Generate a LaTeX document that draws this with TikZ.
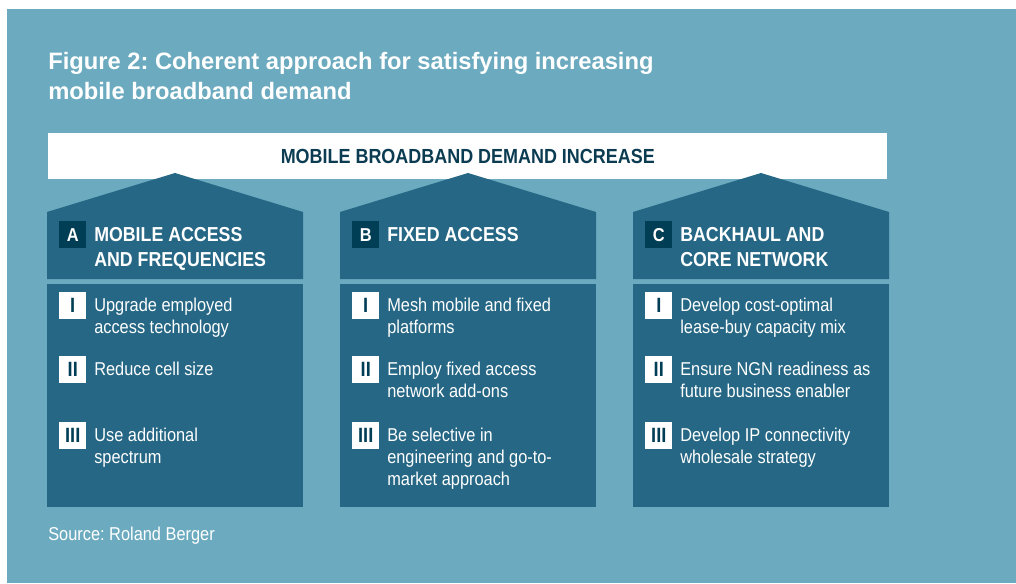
\documentclass[tikz,border=0pt]{standalone}
\usepackage{fontspec}
\setmainfont{Liberation Sans}
\newfontfamily\cnd{Liberation Sans}[FakeStretch=0.88]

\definecolor{skyback}{HTML}{6BAABF}
\definecolor{pillarblue}{HTML}{256784}
\definecolor{badgeblue}{HTML}{003E55}
\definecolor{inkblue}{HTML}{0B3C52}

\tikzset{
  px/.style={x=0.75pt,y=-0.75pt},
  titletext/.style={anchor=north west, inner sep=0pt, text=white, align=left,
    font=\bfseries\fontsize{17.8}{22.5}\selectfont},
  bannerbox/.style={anchor=north west, fill=white, inner sep=0pt,
    minimum width=629.25pt, minimum height=34.5pt, text=inkblue, text depth=0pt,
    font=\cnd\bfseries\fontsize{15.3}{18}\selectfont},
  headtext/.style={anchor=north west, inner sep=0pt, text=white, align=left,
    font=\cnd\bfseries\fontsize{15.15}{18.75}\selectfont},
  itemtext/.style={anchor=north west, inner sep=0pt, text=white, align=left,
    font=\cnd\fontsize{13.95}{16.5}\selectfont},
  letterbadge/.style={anchor=north west, fill=badgeblue, text=white,
    minimum size=20.25pt, inner sep=0pt, font=\cnd\bfseries\fontsize{14}{14}\selectfont},
  numbadge/.style={anchor=north west, fill=white, text=badgeblue,
    minimum size=20.25pt, inner sep=0pt, font=\cnd\bfseries\fontsize{15.5}{15.5}\selectfont},
}

% one pillar: roof-shaped header with lettered badge, plus body panel
\newcommand{\pillar}[3]{%
  \begin{scope}[shift={(#1,0)}]
    \fill[pillarblue] (0,279) -- (0,212) -- (128,173) -- (256,212) -- (256,279) -- cycle;
    \fill[pillarblue] (0,284) rectangle (256,507);
    \node[letterbadge] (badge#2) at (12,221) {#2};
    \node[headtext] (head#2) at (47,227) {#3};
  \end{scope}}

% one numbered measure inside a pillar
\newcommand{\pitem}[5]{%
  \node[numbadge] (#1n) at ({#2+12},#3) {#4};
  \node[itemtext] (#1t) at ({#2+47},{#3+6}) {#5};}

\begin{document}
\frenchspacing
\begin{tikzpicture}[px]
  \useasboundingbox (0,0) rectangle (1016,583);
  \fill[white] (0,0) rectangle (1016,583);
  \fill[skyback] (7,9) rectangle (1016,583);

  \node[titletext] (title) at (48,52)
    {Figure 2: Coherent approach for satisfying increasing\\mobile broadband demand};

  \node[bannerbox] (banner) at (48,133) {MOBILE BROADBAND DEMAND INCREASE};

  \pillar{47}{A}{MOBILE ACCESS\\AND FREQUENCIES}
  \pillar{340}{B}{FIXED ACCESS}
  \pillar{633}{C}{BACKHAUL AND\\CORE NETWORK}

  \pitem{a1}{47}{292}{I}{Upgrade employed\\access technology}
  \pitem{a2}{47}{356}{II}{Reduce cell size}
  \pitem{a3}{47}{422}{III}{Use additional\\spectrum}

  \pitem{b1}{340}{292}{I}{Mesh mobile and fixed\\platforms}
  \pitem{b2}{340}{356}{II}{Employ fixed access\\network add-ons}
  \pitem{b3}{340}{422}{III}{Be selective in\\engineering and go-to-\\market approach}

  \pitem{c1}{633}{292}{I}{Develop cost-optimal\\lease-buy capacity mix}
  \pitem{c2}{633}{356}{II}{Ensure NGN readiness as\\future business enabler}
  \pitem{c3}{633}{422}{III}{Develop IP connectivity\\wholesale strategy}

  \node[itemtext] (source) at (48,527) {Source: Roland Berger};
\end{tikzpicture}
\end{document}
